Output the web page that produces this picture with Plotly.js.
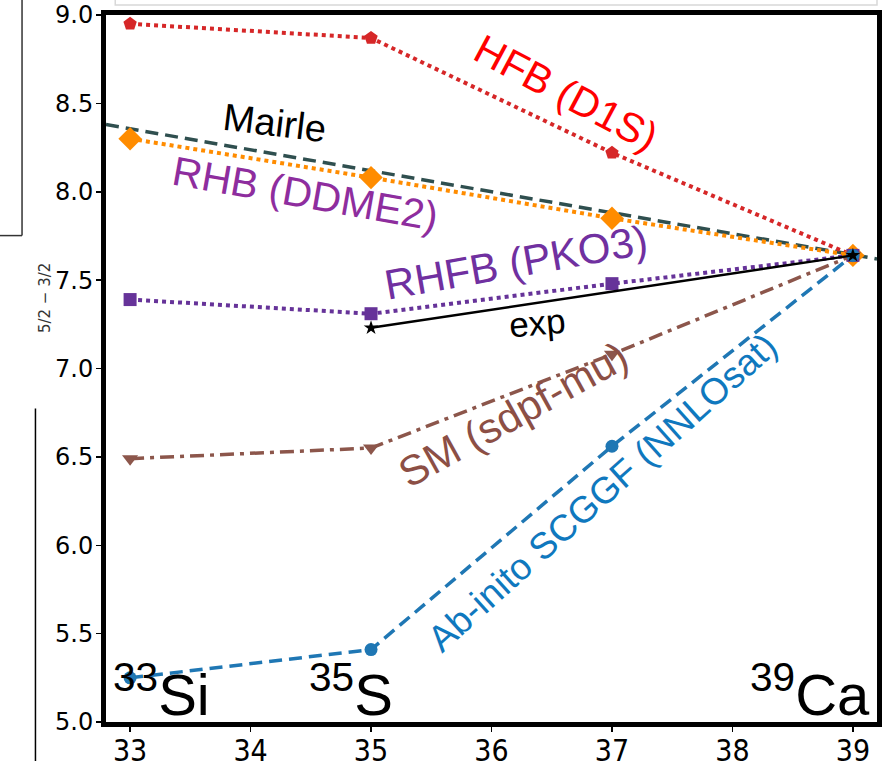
<!DOCTYPE html>
<html>
<head>
<meta charset="utf-8">
<script src="https://cdn.plot.ly/plotly-3.0.1.min.js"></script>
<style>html,body{margin:0;padding:0;background:#fff;}</style>
</head>
<body>
<div id="chart" style="width:887px;height:761px;"></div>
<script>
// ---- data ----
const massNumbers = [33, 35, 37, 39];
const hfbD1S   = [8.95, 8.87, 8.22, 7.64];
const rhbDDME2 = [8.30, 8.08, 7.85, 7.64];
const rhfbPKO3 = [7.39, 7.31, 7.48, 7.64];
const smSdpfMu = [6.49, 6.55, 7.08, 7.64];
const abInitio = [5.25, 5.41, 6.56, 7.64];
const expX = [35, 39];
const expY = [7.23, 7.64];
const mairleX = [32.8, 39.2];
const mairleY = [8.38, 7.62];
const xTicks = [33, 34, 35, 36, 37, 38, 39];
const yTicks = [5.0, 5.5, 6.0, 6.5, 7.0, 7.5, 8.0, 8.5, 9.0];

const traces = [
  {x: mairleX, y: mairleY, mode: 'lines', line: {color: '#2F4F4F', width: 3.5, dash: '13px,7px'}, name: 'Mairle'},
  {x: massNumbers, y: hfbD1S, mode: 'lines+markers', line: {color: '#d62728', width: 4, dash: 'dot'},
   marker: {symbol: 'pentagon', size: 14, color: '#d62728'}, name: 'HFB (D1S)'},
  {x: massNumbers, y: rhbDDME2, mode: 'lines+markers', line: {color: '#FF8C00', width: 4, dash: 'dot'},
   marker: {symbol: 'diamond', size: 18, color: '#FF8C00'}, name: 'RHB (DDME2)'},
  {x: massNumbers, y: rhfbPKO3, mode: 'lines+markers', line: {color: '#663399', width: 4, dash: 'dot'},
   marker: {symbol: 'square', size: 13, color: '#663399'}, name: 'RHFB (PKO3)'},
  {x: massNumbers, y: smSdpfMu, mode: 'lines+markers', line: {color: '#8c564b', width: 3.5, dash: '14px,6px,4px,6px'},
   marker: {symbol: 'triangle-down', size: 14, color: '#8c564b'}, name: 'SM (sdpf-mu)'},
  {x: massNumbers, y: abInitio, mode: 'lines+markers', line: {color: '#1f77b4', width: 3.5, dash: '13px,7px'},
   marker: {symbol: 'circle', size: 13, color: '#1f77b4'}, name: 'Ab-inito SCGGF (NNLOsat)'},
  {x: expX, y: expY, mode: 'lines+markers', line: {color: '#000000', width: 2.5},
   marker: {symbol: 'star', size: 11, color: '#000000'}, name: 'exp'}
];

const txt = 'Liberation Sans, Arial, sans-serif';
function ann(text, x, y, size, color, angle) {
  return {text: text, x: x, y: y, xref: 'x', yref: 'y', showarrow: false,
          font: {family: txt, size: size, color: color}, textangle: angle,
          xanchor: 'center', yanchor: 'middle'};
}

const layout = {
  width: 887, height: 761,
  margin: {l: 106, r: 10, t: 15, b: 39},
  paper_bgcolor: '#ffffff', plot_bgcolor: '#ffffff',
  showlegend: false,
  xaxis: {
    range: [32.8, 39.2], tickvals: xTicks, ticktext: xTicks.map(String),
    showgrid: false, zeroline: false,
    showline: true, mirror: true, linecolor: '#000', linewidth: 5,
    ticks: 'outside', ticklen: 5, tickwidth: 1.5, tickcolor: '#000',
    ticklabelstandoff: -7,
    tickfont: {family: 'Liberation Sans Narrow, DejaVu Sans Condensed, sans-serif', size: 30, color: '#000'}
  },
  yaxis: {
    range: [5, 9], tickvals: yTicks, ticktext: yTicks.map(v => v.toFixed(1)),
    showgrid: false, zeroline: false,
    showline: true, mirror: true, linecolor: '#000', linewidth: 5,
    ticks: 'outside', ticklen: 5, tickwidth: 1.5, tickcolor: '#000',
    ticklabelstandoff: -2,
    tickfont: {family: 'DejaVu Sans, sans-serif', size: 24, color: '#000'}
  },
  annotations: [
    ann('HFB (D1S)', 36.62, 8.56, 41, '#FF0000', 28),
    ann('Mairle', 34.20, 8.39, 38, '#000000', 7),
    ann('RHB (DDME2)', 34.46, 7.99, 41, '#8E2D9E', 10),
    ann('RHFB (PKO3)', 36.20, 7.60, 42, '#7030A0', -10),
    ann('exp', 36.38, 7.26, 35, '#000000', -5),
    ann('SM (sdpf-mu)', 36.18, 6.74, 42, '#8C4F45', -29),
    ann('Ab-inito SCGGF (NNLOsat)', 36.92, 6.30, 37, '#0F78BE', -42),
    ann('<sup>33</sup>Si', 33.26, 5.18, 58, '#000000', 0),
    ann('<sup>35</sup>S', 34.83, 5.18, 58, '#000000', 0),
    ann('<sup>39</sup>Ca', 38.64, 5.18, 58, '#000000', 0),
    {text: '5/2 − 3/2', xref: 'paper', yref: 'paper', x: -0.093, y: 0.60, showarrow: false,
     textangle: -90, font: {family: 'DejaVu Sans, sans-serif', size: 15, color: '#333'}}
  ],
  shapes: [
    {type: 'line', xref: 'paper', yref: 'paper', x0: -0.1089, x1: -0.1089, y0: 1.03, y1: 0.688,
     line: {color: '#333', width: 1.5}},
    {type: 'line', xref: 'paper', yref: 'paper', x0: -0.14, x1: -0.1089, y0: 0.688, y1: 0.688,
     line: {color: '#333', width: 1.5}},
    {type: 'line', xref: 'paper', yref: 'paper', x0: -0.0915, x1: -0.0915, y0: 0.4435, y1: -0.06,
     line: {color: '#000', width: 1.5}},
    {type: 'rect', xref: 'paper', yref: 'paper', x0: 0.012, x1: 1.0, y0: 1.014, y1: 1.06,
     line: {color: '#d8d8d8', width: 1.5}, fillcolor: 'rgba(0,0,0,0)'}
  ]
};

Plotly.newPlot('chart', traces, layout, {displayModeBar: false, staticPlot: true});
</script>
</body>
</html>
